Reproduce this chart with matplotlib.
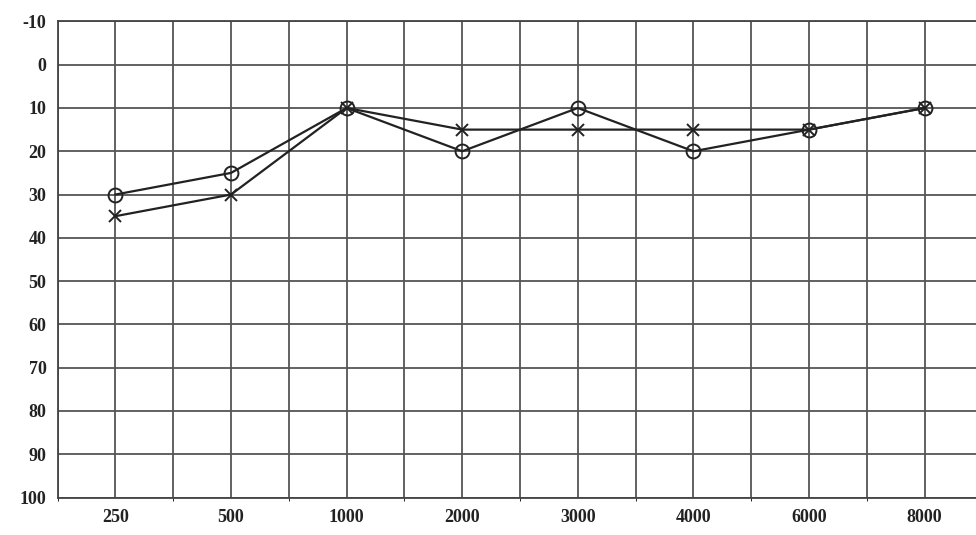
import matplotlib
matplotlib.use("Agg")
import matplotlib.pyplot as plt

freqs = ["250", "500", "1000", "2000", "3000", "4000", "6000", "8000"]
right_ear = [30, 25, 10, 20, 10, 20, 15, 10]
left_ear = [35, 30, 10, 15, 15, 15, 15, 10]
y_ticks = list(range(-10, 101, 10))

plt.rcParams["axes.unicode_minus"] = False

fig = plt.figure(figsize=(9.76, 5.35), dpi=100)
ax = fig.add_axes([0.059, 0.07, 0.95, 0.89])
x = list(range(len(freqs)))

ax.plot(x, right_ear, color="#222222", lw=1.6, marker="o", ms=10,
        mfc="none", mec="#222222", mew=1.4)
ax.plot(x, left_ear, color="#222222", lw=1.6, marker="x", ms=8,
        mec="#222222", mew=1.4)

ax.set_xlim(-0.5, 7.52)
ax.set_ylim(100, -10)
ax.set_yticks(y_ticks)
ax.set_xticks(x)
ax.set_xticklabels(freqs)
ax.set_xticks([i + 0.5 for i in range(-1, 8)], minor=True)
ax.grid(True, which="both", axis="x", color="#555555", lw=1.3)
ax.grid(True, which="major", axis="y", color="#555555", lw=1.3)
ax.set_axisbelow(True)
for s in ax.spines.values():
    s.set_color("#444444")
    s.set_linewidth(1.3)
ax.tick_params(length=0, pad=8, labelsize=13, colors="#222222")
for lab in ax.get_xticklabels() + ax.get_yticklabels():
    lab.set_fontfamily("Liberation Serif")
    lab.set_fontweight("bold")

fig.savefig("out.png")
